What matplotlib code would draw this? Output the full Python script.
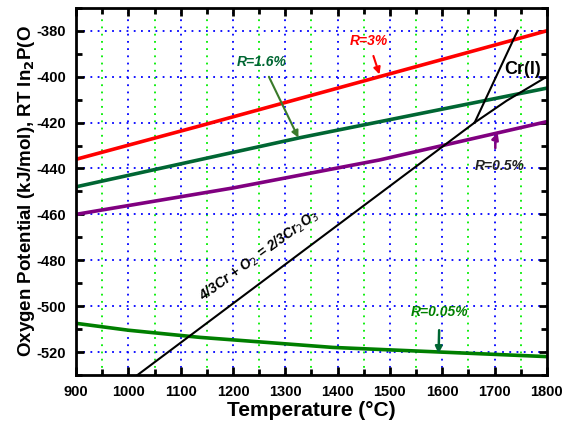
import matplotlib
matplotlib.use("Agg")
import matplotlib.pyplot as plt
from matplotlib.ticker import MultipleLocator

plt.rcParams['font.family'] = ['Liberation Sans', 'DejaVu Sans']
plt.rcParams['axes.unicode_minus'] = False

# Data
t_red = [900, 1136, 1800]
g_red = [-436, -421.5, -380]

t_teal = [900, 1328, 1800]
g_teal = [-448, -426.6, -405]

t_purple = [900, 1200, 1480, 1800]
g_purple = [-460, -448.5, -436.3, -419.6]

t_green = [900, 1000, 1136, 1391, 1595, 1800]
g_green = [-507.5, -510.5, -513.6, -518, -520, -522]

t_cr = [1000, 1662]
g_cr = [-533, -420]
t_cr_steep = [1662, 1744]
g_cr_steep = [-420, -380]
t_cr_liq = [1662, 1723, 1800]
g_cr_liq = [-420, -410.5, -400]

fig = plt.figure(figsize=(5.72, 4.36), dpi=100)
ax = fig.add_axes([0.133, 0.14, 0.823, 0.842])

# grid
for t in range(1000, 1800, 100):
    ax.axvline(t, color='#0000ff', ls=(0, (1, 3)), lw=1.3, zorder=0)
for t in range(950, 1800, 100):
    ax.axvline(t, color='#00ee00', ls=(0, (1, 3)), lw=1.3, zorder=0)
for g in range(-520, -370, 20):
    ax.axhline(g, color='#0000ff', ls=(0, (1, 3)), lw=1.3, zorder=0)

ax.plot(t_red, g_red, color='#ff0000', lw=2.6)
ax.plot(t_teal, g_teal, color='#006633', lw=2.6)
ax.plot(t_purple, g_purple, color='#800080', lw=2.6)
ax.plot(t_green, g_green, color='#007f00', lw=2.6)
ax.plot(t_cr, g_cr, color='black', lw=1.5)
ax.plot(t_cr_steep, g_cr_steep, color='black', lw=1.5)
ax.plot(t_cr_liq, g_cr_liq, color='black', lw=1.5)

ax.set_xlim(900, 1800)
ax.set_ylim(-530, -370)
ax.xaxis.set_major_locator(MultipleLocator(100))
ax.xaxis.set_minor_locator(MultipleLocator(50))
ax.yaxis.set_major_locator(MultipleLocator(20))
ax.yaxis.set_minor_locator(MultipleLocator(10))
ax.tick_params(which='both', direction='in', top=True, right=True, width=2)
ax.tick_params(which='major', length=6, labelsize=10.5, pad=7)
ax.tick_params(which='minor', length=4)
for lab in ax.get_xticklabels() + ax.get_yticklabels():
    lab.set_fontweight('bold')
for s in ax.spines.values():
    s.set_linewidth(2)

ax.set_xlabel('Temperature (°C)', fontsize=15, fontweight='bold', labelpad=2)
ax.set_ylabel('Oxygen Potential (kJ/mol), RT ln$_\\mathbf{2}$P(O', fontsize=13.5,
              fontweight='bold', labelpad=0)

# annotations
ax.annotate('R=3%', xy=(1480, -399), xytext=(1459, -384.4), color='#ff0000',
            fontsize=10, fontweight='bold', style='italic', ha='center', va='center',
            arrowprops=dict(arrowstyle='-|>', color='#ff0000', lw=1.5,
                            shrinkA=4, shrinkB=0))
ax.annotate('R=1.6%', xy=(1325, -426.6), xytext=(1255, -393.6), color='#006633',
            fontsize=10, fontweight='bold', style='italic', ha='center', va='center',
            arrowprops=dict(arrowstyle='-|>', color='#3a7a2a', lw=1.5,
                            shrinkA=4, shrinkB=0))
ax.annotate('R=0.5%', xy=(1706, -424.4), xytext=(1710, -439), color='#222222',
            fontsize=10, fontweight='bold', style='italic', ha='center', va='center',
            arrowprops=dict(arrowstyle='-|>', color='#800080', lw=1.8,
                            shrinkA=6, shrinkB=0, connectionstyle='arc3,rad=-0.2'))
ax.annotate('R=0.05%', xy=(1593, -520.7), xytext=(1595, -502.6), color='#008000',
            fontsize=10, fontweight='bold', style='italic', ha='center', va='center',
            arrowprops=dict(arrowstyle='-|>', color='#006633', lw=1.8,
                            shrinkA=6, shrinkB=0))

ax.text(1754, -396.7, 'Cr(l)', fontsize=13, fontweight='bold', ha='center', va='center')
ax.text(1250, -478, '4/3Cr + O$_2$ = 2/3Cr$_2$O$_3$', fontsize=10, fontweight='bold',
        style='italic', ha='center', va='center', rotation=36)

fig.savefig('out.png', dpi=100)
